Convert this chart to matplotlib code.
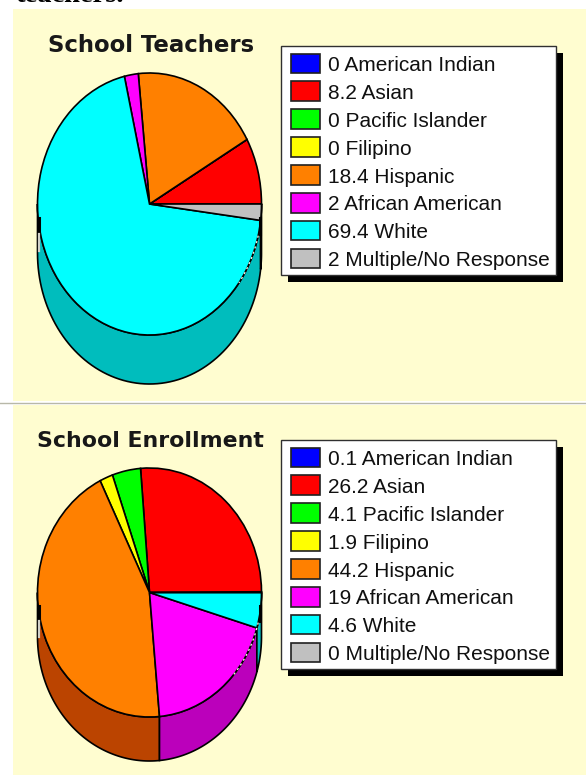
import numpy as np
import matplotlib
matplotlib.use("Agg")
import matplotlib.pyplot as plt
from matplotlib.patches import Rectangle

W, H = 586, 776

names = ["American Indian", "Asian", "Pacific Islander", "Filipino", "Hispanic",
         "African American", "White", "Multiple/No Response"]
teachers = [0, 8.2, 0, 0, 18.4, 2, 69.4, 2]
enrollment = [0.1, 26.2, 4.1, 1.9, 44.2, 19, 4.6, 0]
colors = ["#0000FF", "#FF0000", "#00FF00", "#FFFF00", "#FF8000", "#FF00FF", "#00FFFF", "#C0C0C0"]
side_colors = ["#0000BF", "#BF0000", "#00BF00", "#BFBF00", "#BB4400", "#BB00BB", "#00BDBD", "#909090"]

CREAM = "#FFFDD0"

fig = plt.figure(figsize=(W / 100, H / 100), dpi=100, facecolor="white")

# page axes in pixels, y going down
page = fig.add_axes([0, 0, 1, 1])
page.set_xlim(0, W)
page.set_ylim(H, 0)
page.axis("off")

page.add_patch(Rectangle((13, 9), W - 13, 392, fc=CREAM, ec="none"))
page.add_patch(Rectangle((13, 405), W - 13, 370, fc=CREAM, ec="none"))
page.plot([0, W], [403, 403], color="#B8B8A8", lw=1)
page.text(15, 2.5, "teachers.", family="Liberation Serif", fontweight="bold", fontsize=20.5, va="baseline")


def draw_pie(values, cx, cy, rx, ry, depth, dash_end):
    d = depth / ry
    ax = fig.add_axes([(cx - rx) / W, (H - (cy + ry + depth)) / H, 2 * rx / W, (2 * ry + depth) / H])
    wedges, _ = ax.pie(values, colors=colors, startangle=0, counterclock=True, radius=1,
                       wedgeprops=dict(edgecolor="black", linewidth=1.2, clip_on=False))
    ax.set_aspect("auto")
    ax.set_xlim(-1, 1)
    ax.set_ylim(-1 - d, 1)
    ax.axis("off")
    # side wall, only the lower half of the ellipse shows
    edges = np.cumsum([0] + values) / sum(values) * 360
    for i in range(len(values)):
        a1, a2 = max(edges[i], 180), min(edges[i + 1], 360)
        if a2 <= a1:
            continue
        t = np.radians(np.linspace(a1, a2, 80))
        xs = np.concatenate([np.cos(t), np.cos(t[::-1])])
        ys = np.concatenate([np.sin(t), np.sin(t[::-1]) - d])
        ax.fill(xs, ys, facecolor=side_colors[i], edgecolor="black", linewidth=1.2,
                zorder=0.5, clip_on=False)
    # rendering leftovers of the old chart control: thick black edges, grey sliver, white dashes
    ax.plot([0.985, 0.985], [-0.11, -0.23], color="black", lw=2.2, clip_on=False, zorder=3)
    ax.plot([-0.985, -0.985], [-0.11, -0.23], color="black", lw=2.2, clip_on=False, zorder=3)
    ax.plot([-0.985, -0.985], [-0.23, -0.36], color="#D0D0C8", lw=1.6, clip_on=False, zorder=3)
    t = np.radians(np.linspace(-14, dash_end, 30))
    ax.plot(np.cos(t), np.sin(t), color="#F0F0E0", lw=1.0, ls=(0, (1.5, 2.5)), clip_on=False, zorder=3)


def draw_legend(values, left, top, right, bottom):
    page.add_patch(Rectangle((left + 7, top + 7), right - left, bottom - top, fc="black", ec="none"))
    page.add_patch(Rectangle((left, top), right - left, bottom - top, fc="white", ec="#303030", lw=1))
    for i, (v, n) in enumerate(zip(values, names)):
        y = top + 7.5 + i * 27.9
        page.add_patch(Rectangle((left + 10, y), 29, 19.5, fc=colors[i], ec="#202020", lw=1.2))
        page.text(left + 47, y + 10, f"{v} {n}", family="Liberation Sans", fontsize=15,
                  color="#101010", va="center_baseline")


page.text(151, 43, "School Teachers", family="DejaVu Sans", fontweight="bold", fontsize=16.4,
          color="#181818", ha="center", va="center_baseline")
page.text(150, 439, "School Enrollment", family="DejaVu Sans", fontweight="bold", fontsize=15.8,
          color="#181818", ha="center", va="center_baseline")

draw_pie(teachers, 149.5, 204, 112, 131, 49, -37)
draw_pie(enrollment, 149.5, 592.5, 112, 124.5, 44, -42)

draw_legend(teachers, 281, 46, 556, 275)
draw_legend(enrollment, 281, 440, 556, 669)

fig.savefig("out.png", dpi=100, facecolor="white")
